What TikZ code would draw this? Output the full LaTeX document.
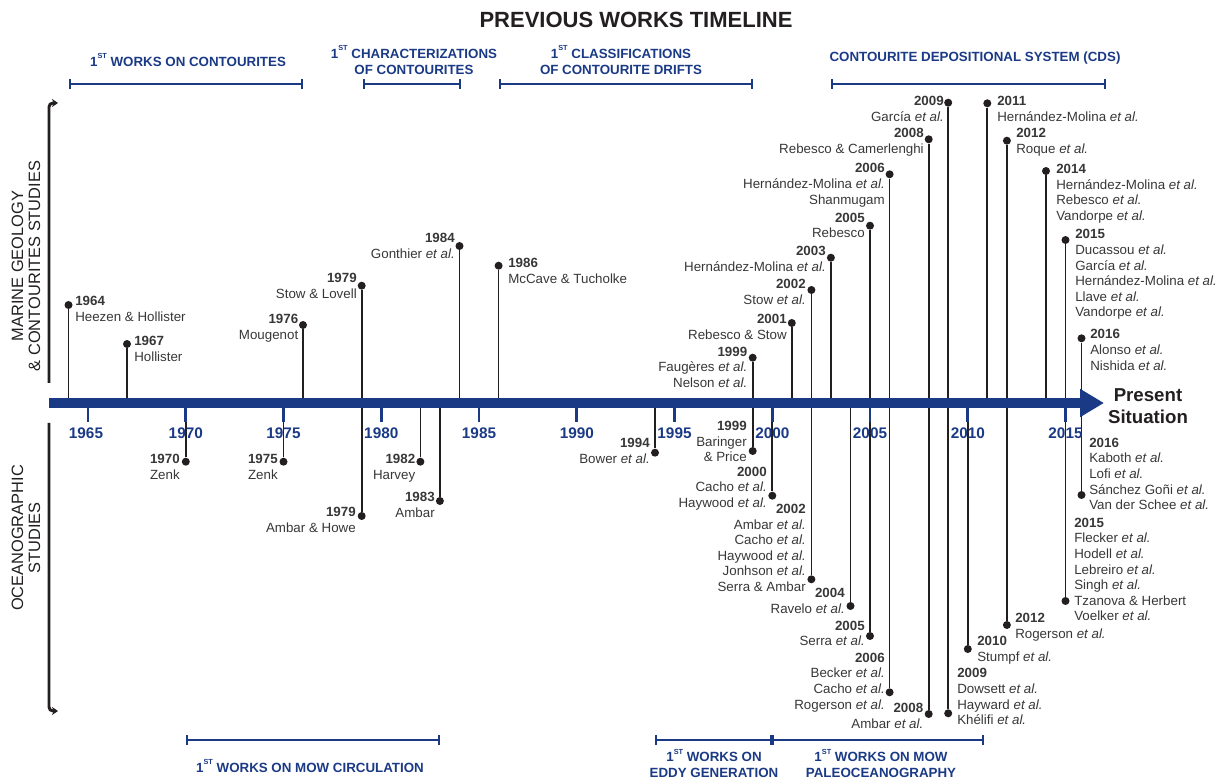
\documentclass[tikz,border=0pt]{standalone}
\usepackage{fontspec}
\setmainfont{Liberation Sans}
\usetikzlibrary{arrows.meta}
\definecolor{tlblue}{RGB}{27,58,134}
\definecolor{tldark}{RGB}{35,31,32}
\definecolor{tlgray}{RGB}{55,55,55}
\newcommand{\firstst}{1\raisebox{0.55em}{\fontsize{5.5}{6}\selectfont ST}}

\begin{document}
\begin{tikzpicture}[x=0.75pt, y=-0.75pt,
  evdot/.style={circle, fill=tldark, inner sep=0pt, minimum size=6pt},
  stem/.style={tldark, line width=1.3pt},
  yeartick/.style={tlblue, line width=2pt},
  yearlab/.style={text=tlblue, inner sep=0pt, font=\fontsize{11.5}{12}\selectfont\bfseries},
  lab/.style={text=tlgray, inner sep=0pt, font=\fontsize{10}{11.7}\selectfont},
  labr/.style={lab, anchor=north west, align=left},
  labl/.style={lab, anchor=north east, align=right},
  period/.style={text=tlblue, inner sep=0pt, align=center, font=\fontsize{10}{12}\selectfont\bfseries},
  bracket/.style={tlblue, line width=1.5pt, {Bar[width=7.5pt]}-{Bar[width=7.5pt]}},
  side/.style={text=tldark, rotate=90, align=center, font=\fontsize{12.3}{12.8}\selectfont},
  sidearrow/.style={tldark, line width=2.2pt, rounded corners=3pt, -{Stealth[length=4.5pt, width=6pt]}}]
  \useasboundingbox (0,0) rectangle (1228,780);
  \coordinate (axis) at (0,403);

  % title
  \node[text=tldark, font=\fontsize{16.5}{18}\selectfont\bfseries] (title) at (636,20) {PREVIOUS WORKS TIMELINE};

  % periods above
  \node[period] (pcont) at (188,60) {\firstst{} WORKS ON CONTOURITES};
  \node[period] (pchar) at (414,60) {\firstst{} CHARACTERIZATIONS\\OF CONTOURITES};
  \node[period] (pclass) at (621,60) {\firstst{} CLASSIFICATIONS\\OF CONTOURITE DRIFTS};
  \node[period] (pcds) at (975,58) {CONTOURITE DEPOSITIONAL SYSTEM (CDS)};
  \draw[bracket] (68.5,84) -- (303,84);
  \draw[bracket] (363,84) -- (461,84);
  \draw[bracket] (498.6,84) -- (752.7,84);
  \draw[bracket] (831,84) -- (1106,84);

  % periods below
  \node[period] (pmow) at (310,766) {\firstst{} WORKS ON MOW CIRCULATION};
  \node[period] (peddy) at (714,763.5) {\firstst{} WORKS ON\\EDDY GENERATION};
  \node[period] (ppaleo) at (881,763.5) {\firstst{} WORKS ON MOW\\PALEOCEANOGRAPHY};
  \draw[bracket] (185.8,740) -- (439.9,740);
  \draw[bracket] (655,740) -- (772.3,740);
  \draw[bracket] (772.3,740) -- (984,740);

  % side labels
  \node[side] (marine) at (26,266) {MARINE GEOLOGY\\\& CONTOURITES STUDIES};
  \node[side] (ocean) at (26,538) {OCEANOGRAPHIC\\STUDIES};
  \draw[sidearrow] (49,383) -- (49,103) -- (58,103);
  \draw[sidearrow] (49,423) -- (49,711) -- (58,711);

  % marine geology works (above)
  \node[evdot] (m1964) at (68.5,305) {};
  \node[labr] (ml1964) at (75,296) {\textbf{1964}\\Heezen \& Hollister};
  \node[evdot] (m1967) at (127,344) {};
  \node[labr] (ml1967) at (134,336) {\textbf{1967}\\Hollister};
  \node[evdot] (m1976) at (303,325) {};
  \node[labl] (ml1976) at (298.5,314) {\textbf{1976}\\Mougenot};
  \node[evdot] (m1979) at (361.7,285.7) {};
  \node[labl] (ml1979) at (357,273) {\textbf{1979}\\Stow \& Lovell};
  \node[evdot] (m1984) at (459.5,246) {};
  \node[labl] (ml1984) at (455,233) {\textbf{1984}\\Gonthier \textit{et al.}};
  \node[evdot] (m1986) at (498.6,265.7) {};
  \node[labr] (ml1986) at (508,258) {\textbf{1986}\\McCave \& Tucholke};
  \node[evdot] (m1999) at (752.7,357.7) {};
  \node[labl] (ml1999) at (747.5,346.7) {\textbf{1999}\\Faugères \textit{et al.}\\Nelson \textit{et al.}};
  \node[evdot] (m2001) at (791.8,323) {};
  \node[labl] (ml2001) at (787,314) {\textbf{2001}\\Rebesco \& Stow};
  \node[evdot] (m2002) at (811.4,290) {};
  \node[labl] (ml2002) at (806,279) {\textbf{2002}\\Stow \textit{et al.}};
  \node[evdot] (m2003) at (830.9,257.7) {};
  \node[labl] (ml2003) at (826,246) {\textbf{2003}\\Hernández-Molina \textit{et al.}};
  \node[evdot] (m2005) at (870,225.7) {};
  \node[labl] (ml2005) at (865,212.7) {\textbf{2005}\\Rebesco};
  \node[evdot] (m2006) at (889.6,174.3) {};
  \node[labl] (ml2006) at (885,163.3) {\textbf{2006}\\Hernández-Molina \textit{et al.}\\Shanmugam};
  \node[evdot] (m2008) at (928.7,139.3) {};
  \node[labl] (ml2008) at (924,128.3) {\textbf{2008}\\Rebesco \& Camerlenghi};
  \node[evdot] (m2009) at (948.2,102.7) {};
  \node[labl] (ml2009) at (944,96) {\textbf{2009}\\García \textit{et al.}};
  \node[evdot] (m2011) at (987.3,103.3) {};
  \node[labr] (ml2011) at (997,96) {\textbf{2011}\\Hernández-Molina \textit{et al.}};
  \node[evdot] (m2012) at (1006.9,140.7) {};
  \node[labr] (ml2012) at (1016,128.3) {\textbf{2012}\\Roque \textit{et al.}};
  \node[evdot] (m2014) at (1046,171) {};
  \node[labr] (ml2014) at (1056,164) {\textbf{2014}\\Hernández-Molina \textit{et al.}\\Rebesco \textit{et al.}\\Vandorpe \textit{et al.}};
  \node[evdot] (m2015) at (1065.5,240) {};
  \node[labr] (ml2015) at (1075,229.3) {\textbf{2015}\\Ducassou \textit{et al.}\\García \textit{et al.}\\Hernández-Molina \textit{et al.}\\Llave \textit{et al.}\\Vandorpe \textit{et al.}};
  \node[evdot] (m2016) at (1081.5,338.3) {};
  \node[labr] (ml2016) at (1090,329.3) {\textbf{2016}\\Alonso \textit{et al.}\\Nishida \textit{et al.}};

  % oceanographic works (below)
  \node[evdot] (o1970) at (185.8,461.7) {};
  \node[labl] (ol1970) at (180,454.3) {\textbf{1970}\\Zenk};
  \node[evdot] (o1975) at (283.5,461.7) {};
  \node[labl] (ol1975) at (278,454.3) {\textbf{1975}\\Zenk};
  \node[evdot] (o1979) at (361.7,516) {};
  \node[labl] (ol1979) at (356,507.3) {\textbf{1979}\\Ambar \& Howe};
  \node[evdot] (o1982) at (420.4,461.7) {};
  \node[labl] (ol1982) at (415.5,454.3) {\textbf{1982}\\Harvey};
  \node[evdot] (o1983) at (439.9,501) {};
  \node[labl] (ol1983) at (435,492.3) {\textbf{1983}\\Ambar};
  \node[evdot] (o1994) at (655,452.7) {};
  \node[labl] (ol1994) at (650,438.3) {\textbf{1994}\\Bower \textit{et al.}};
  \node[evdot] (o1999) at (752.7,451) {};
  \node[labl] (ol1999) at (747,421) {\textbf{1999}\\Baringer\\\& Price};
  \node[evdot] (o2000) at (772.3,495.7) {};
  \node[labl] (ol2000) at (767,466.7) {\textbf{2000}\\Cacho \textit{et al.}\\Haywood \textit{et al.}};
  \node[evdot] (o2002) at (811.4,579.3) {};
  \node[labl] (ol2002) at (806,504) {\textbf{2002}\\Ambar \textit{et al.}\\Cacho \textit{et al.}\\Haywood \textit{et al.}\\Jonhson \textit{et al.}\\Serra \& Ambar};
  \node[evdot] (o2004) at (850.5,606) {};
  \node[labl] (ol2004) at (845,588.3) {\textbf{2004}\\Ravelo \textit{et al.}};
  \node[evdot] (o2005) at (870,636) {};
  \node[labl] (ol2005) at (865,620.7) {\textbf{2005}\\Serra \textit{et al.}};
  \node[evdot] (o2006) at (889.6,692.3) {};
  \node[labl] (ol2006) at (885,652.7) {\textbf{2006}\\Becker \textit{et al.}\\Cacho \textit{et al.}\\Rogerson \textit{et al.}};
  \node[evdot] (o2008) at (928.7,714) {};
  \node[labl] (ol2008) at (923.5,703.3) {\textbf{2008}\\Ambar \textit{et al.}};
  \node[evdot] (o2009) at (948.2,713.3) {};
  \node[labr] (ol2009) at (957,668.3) {\textbf{2009}\\Dowsett \textit{et al.}\\Hayward \textit{et al.}\\Khélifi \textit{et al.}};
  \node[evdot] (o2010) at (967.8,649) {};
  \node[labr] (ol2010) at (977,636) {\textbf{2010}\\Stumpf \textit{et al.}};
  \node[evdot] (o2012) at (1006.9,625) {};
  \node[labr] (ol2012) at (1015,613.3) {\textbf{2012}\\Rogerson \textit{et al.}};
  \node[evdot] (o2015) at (1065.5,601) {};
  \node[labr] (ol2015) at (1074,517.7) {\textbf{2015}\\Flecker \textit{et al.}\\Hodell \textit{et al.}\\Lebreiro \textit{et al.}\\Singh \textit{et al.}\\Tzanova \& Herbert\\Voelker \textit{et al.}};
  \node[evdot] (o2016) at (1081.5,495) {};
  \node[labr] (ol2016) at (1089,437.7) {\textbf{2016}\\Kaboth \textit{et al.}\\Lofi \textit{et al.}\\Sánchez Goñi \textit{et al.}\\Van der Schee \textit{et al.}};

  % stems to the axis
  \draw[stem] (m1964) -- (m1964 |- axis);
  \draw[stem] (m1967) -- (m1967 |- axis);
  \draw[stem] (m1976) -- (m1976 |- axis);
  \draw[stem] (m1979) -- (m1979 |- axis);
  \draw[stem] (m1984) -- (m1984 |- axis);
  \draw[stem] (m1986) -- (m1986 |- axis);
  \draw[stem] (m1999) -- (m1999 |- axis);
  \draw[stem] (m2001) -- (m2001 |- axis);
  \draw[stem] (m2002) -- (m2002 |- axis);
  \draw[stem] (m2003) -- (m2003 |- axis);
  \draw[stem] (m2005) -- (m2005 |- axis);
  \draw[stem] (m2006) -- (m2006 |- axis);
  \draw[stem] (m2008) -- (m2008 |- axis);
  \draw[stem] (m2009) -- (m2009 |- axis);
  \draw[stem] (m2011) -- (m2011 |- axis);
  \draw[stem] (m2012) -- (m2012 |- axis);
  \draw[stem] (m2014) -- (m2014 |- axis);
  \draw[stem] (m2015) -- (m2015 |- axis);
  \draw[stem] (m2016) -- (m2016 |- axis);
  \draw[stem] (o1970) -- (o1970 |- axis);
  \draw[stem] (o1975) -- (o1975 |- axis);
  \draw[stem] (o1979) -- (o1979 |- axis);
  \draw[stem] (o1982) -- (o1982 |- axis);
  \draw[stem] (o1983) -- (o1983 |- axis);
  \draw[stem] (o1994) -- (o1994 |- axis);
  \draw[stem] (o1999) -- (o1999 |- axis);
  \draw[stem] (o2000) -- (o2000 |- axis);
  \draw[stem] (o2002) -- (o2002 |- axis);
  \draw[stem] (o2004) -- (o2004 |- axis);
  \draw[stem] (o2005) -- (o2005 |- axis);
  \draw[stem] (o2006) -- (o2006 |- axis);
  \draw[stem] (o2008) -- (o2008 |- axis);
  \draw[stem] (o2009) -- (o2009 |- axis);
  \draw[stem] (o2010) -- (o2010 |- axis);
  \draw[stem] (o2012) -- (o2012 |- axis);
  \draw[stem] (o2015) -- (o2015 |- axis);
  \draw[stem] (o2016) -- (o2016 |- axis);

  % year ticks
  \draw[yeartick] (88,403) -- (88,422);
  \draw[yeartick] (185.8,403) -- (185.8,422);
  \draw[yeartick] (283.5,403) -- (283.5,422);
  \draw[yeartick] (381.3,403) -- (381.3,422);
  \draw[yeartick] (479,403) -- (479,422);
  \draw[yeartick] (576.8,403) -- (576.8,422);
  \draw[yeartick] (674.5,403) -- (674.5,422);
  \draw[yeartick] (772.3,403) -- (772.3,422);
  \draw[yeartick] (870,403) -- (870,422);
  \draw[yeartick] (967.8,403) -- (967.8,422);
  \draw[yeartick] (1065.5,403) -- (1065.5,422);

  % time axis
  \coordinate (axstart) at (49,403);
  \coordinate (axend) at (1104,403);
  \draw[tlblue, line width=7.5pt, -{Triangle[length=18pt, width=20pt]}] (axstart) -- (axend);
  \node[text=tldark, align=center, font=\fontsize{14}{16.5}\selectfont\bfseries] (present) at (1148,406) {Present\\Situation};

  % year labels
  \node[yearlab] (y1965) at (86,433) {1965};
  \node[yearlab] (y1970) at (185.8,433) {1970};
  \node[yearlab] (y1975) at (283.5,433) {1975};
  \node[yearlab] (y1980) at (381.3,433) {1980};
  \node[yearlab] (y1985) at (479,433) {1985};
  \node[yearlab] (y1990) at (576.8,433) {1990};
  \node[yearlab] (y1995) at (674.5,433) {1995};
  \node[yearlab] (y2000) at (772.3,433) {2000};
  \node[yearlab] (y2005) at (870,433) {2005};
  \node[yearlab] (y2010) at (967.8,433) {2010};
  \node[yearlab] (y2015) at (1065.5,433) {2015};
\end{tikzpicture}
\end{document}
